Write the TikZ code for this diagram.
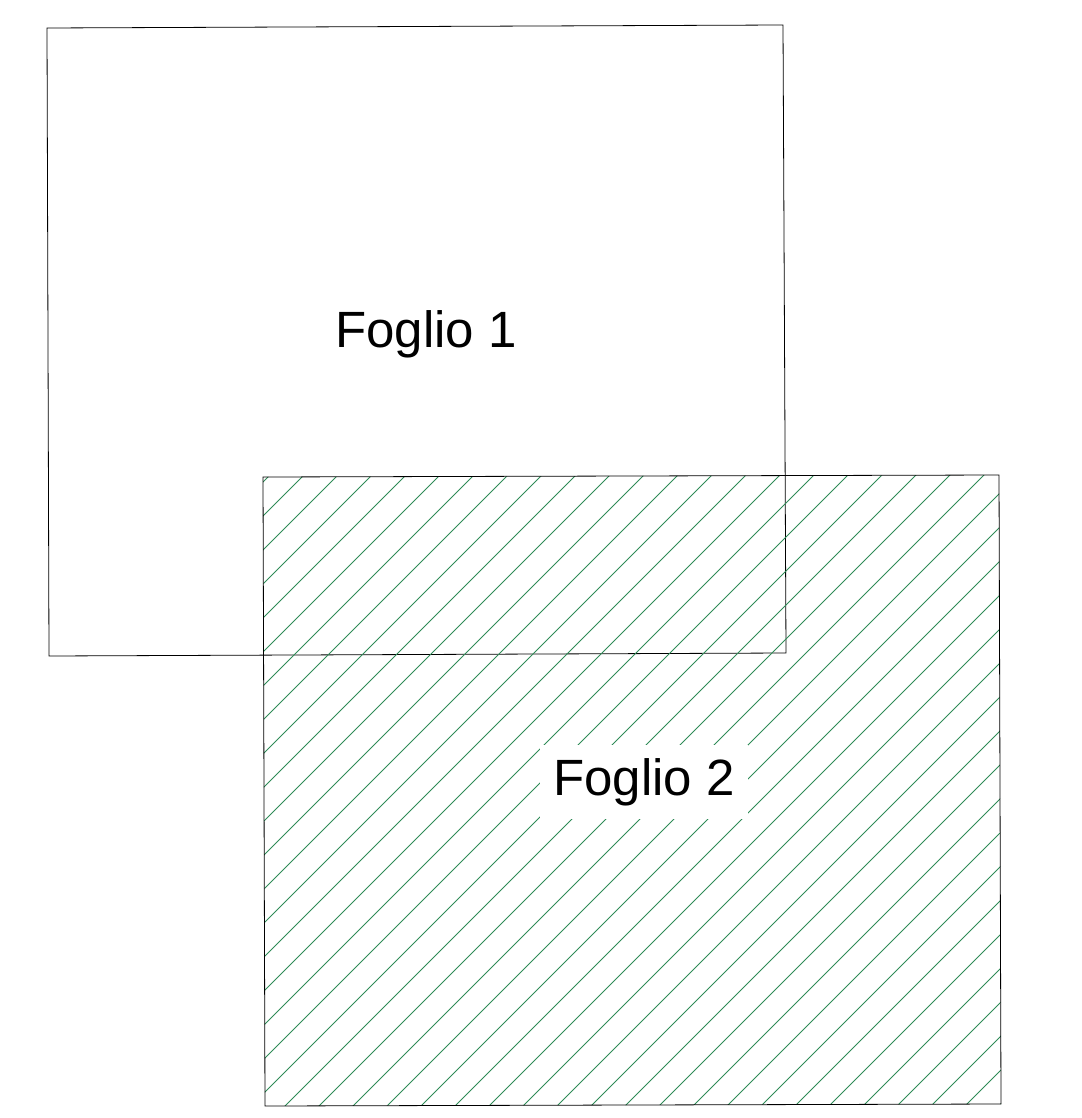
\documentclass[tikz,border=0pt]{standalone}
\usepackage{fontspec}
\setmainfont{Liberation Sans}
\definecolor{hatchgreen}{RGB}{46,139,87}
\begin{document}
\begin{tikzpicture}[
    x=1pt, y=-1pt,
    sheet/.style={draw=black, line width=0.8pt},
    hatch line/.style={draw=hatchgreen, line width=0.8pt},
    sheet label/.style={font=\fontsize{51}{61}\selectfont, inner sep=13pt, anchor=base}
]
    \useasboundingbox (0,0) rectangle (1081,1118);

    % Foglio 1
    \coordinate (f1-nw) at (47,28);
    \coordinate (f1-ne) at (783,25);
    \coordinate (f1-se) at (786,653);
    \coordinate (f1-sw) at (49,656);
    \draw[sheet] (f1-nw) -- (f1-ne) -- (f1-se) -- (f1-sw) -- cycle;
    \node[sheet label] (f1-label) at (426,347) {Foglio 1};

    % Foglio 2 (tratteggiato)
    \coordinate (f2-nw) at (263,477);
    \coordinate (f2-ne) at (999,475);
    \coordinate (f2-se) at (1001,1104);
    \coordinate (f2-sw) at (265,1106);
    \begin{scope}
        \clip (f2-nw) -- (f2-ne) -- (f2-se) -- (f2-sw) -- cycle;
        \foreach \k in {0,...,40}
            \draw[hatch line] (745+34*\k-1200,1200) -- (745+34*\k,0);
    \end{scope}
    \draw[sheet] (f2-nw) -- (f2-ne) -- (f2-se) -- (f2-sw) -- cycle;
    \node[sheet label, fill=white] (f2-label) at (644,795) {Foglio 2};
\end{tikzpicture}
\end{document}
